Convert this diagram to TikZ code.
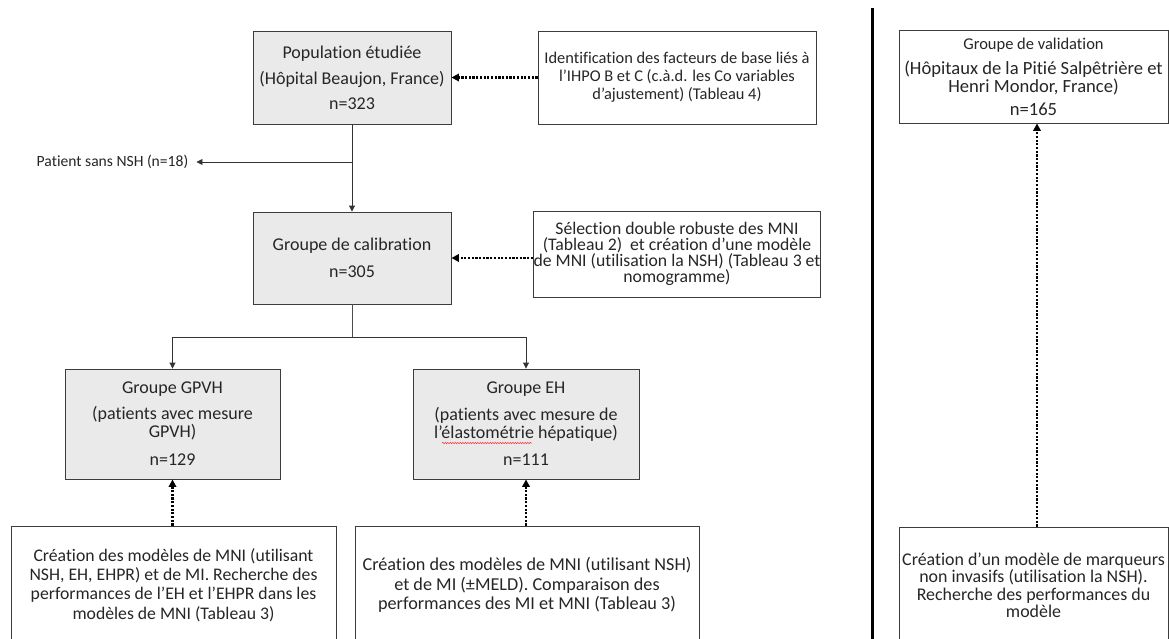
\documentclass[tikz,border=0pt]{standalone}
\usepackage{fontspec}
\setmainfont{Carlito}[Ligatures=NoCommon]
\usetikzlibrary{arrows.meta,decorations.pathmorphing}
\definecolor{boxfill}{RGB}{234,234,234}
\definecolor{edge}{RGB}{60,60,60}
\begin{document}
\begin{tikzpicture}[x=1pt,y=-1pt,
  gbox/.style={draw=edge, line width=0.9pt, fill=boxfill, inner sep=0pt, align=center,
    font=\fontsize{18}{18}\selectfont, text=black!85},
  wbox/.style={draw=edge, line width=0.9pt, fill=white, inner sep=0pt, align=center,
    font=\fontsize{18}{18}\selectfont, text=black!85},
  solidarrow/.style={draw=black!80, line width=0.9pt, -{Triangle[length=6pt,width=6pt]}},
  plainline/.style={draw=black!70, line width=0.9pt},
  dotarrow/.style={draw=black, line width=2.5pt, dash pattern=on 2.2pt off 1.5pt,
    -{Triangle[length=7.5pt,width=7.5pt]}, shorten >=0pt}
]
\useasboundingbox (0,0) rectangle (1169,639);
\clip (0,0) rectangle (1169,639);
\fill[white] (0,0) rectangle (1169,639);

% left column
\node[gbox, minimum width=198pt, minimum height=93pt] (pop) at (352,77.5)
  {Population étudiée\\[8pt](Hôpital Beaujon, France)\\[7pt]n=323};
\node[wbox, minimum width=278pt, minimum height=93pt, font=\fontsize{16.4}{18}\selectfont] (ident) at (677,77.5)
  {Identification des facteurs de base liés à\\l’IHPO B et C (c.à.d. les Co variables\\d’ajustement) (Tableau 4)};
\node[gbox, minimum width=198pt, minimum height=92pt] (calib) at (352,258)
  {Groupe de calibration\\[9pt]n=305};
\node[wbox, minimum width=278pt, minimum height=86pt, font=\fontsize{17.7}{16}\selectfont] (sel) at (677,254)
  {Sélection double robuste des MNI\\(Tableau 2)\ \ et création d’une modèle\\de MNI (utilisation la NSH) (Tableau 3 et\\nomogramme)};
\node[font=\fontsize{15.6}{15.6}\selectfont, text=black!85, inner ysep=2pt, inner xsep=8pt] (lost) at (112.5,162) {Patient sans NSH (n=18)};
\coordinate (branch) at (352,162);
\coordinate (split) at (352,337);

\node[gbox, minimum width=215pt, minimum height=110pt] (gpvh) at (172.5,424)
  {Groupe GPVH\\[8pt](patients avec mesure\\GPVH)\\[10pt]n=129};
\node[gbox, minimum width=226pt, minimum height=110pt] (eh) at (526,424)
  {Groupe EH\\[9pt](patients avec mesure de\\l’élastométrie hépatique)\\[9pt]n=111};

\node[wbox, minimum width=325pt, minimum height=118pt, font=\fontsize{17.7}{19.3}\selectfont] (bl) at (173.5,585)
  {Création des modèles de MNI (utilisant\\NSH, EH, EHPR) et de MI. Recherche des\\performances de l’EH et l’EHPR dans les\\modèles de MNI (Tableau 3)};
\node[wbox, minimum width=344pt, minimum height=118pt, font=\fontsize{18.2}{19.5}\selectfont] (bm) at (527,585)
  {Création des modèles de MNI (utilisant NSH)\\et de MI (±MELD). Comparaison des\\performances des MI et MNI (Tableau 3)};

% right column
\node[wbox, minimum width=269pt, minimum height=93pt, font=\fontsize{18.6}{18}\selectfont] (val) at (1033.5,76.5)
  {{\fontsize{16.5}{18}\selectfont Groupe de validation}\\[7pt](Hôpitaux de la Pitié Salpêtrière et\\Henri Mondor, France)\\[5pt]n=165};
\node[wbox, minimum width=269pt, minimum height=116pt, font=\fontsize{17.9}{17.5}\selectfont] (br) at (1033.5,585)
  {Création d’un modèle de marqueurs\\non invasifs (utilisation la NSH).\\Recherche des performances du\\modèle};

% separator
\draw[line width=3pt, black] (872,8) -- (872,645);

% connectors
\draw[solidarrow] (pop.south) -- (calib.north);
\draw[solidarrow] (branch) -- (lost.east);
\draw[plainline] (calib.south) -- (split);
\draw[solidarrow] (split) -| (gpvh.north);
\draw[solidarrow] (split) -| (eh.north);
\draw[dotarrow] (ident.west |- pop.east) -- (pop.east);
\draw[dotarrow] (sel.west |- calib.east) -- (calib.east);
\draw[dotarrow] (bl.north -| gpvh.south) -- (gpvh.south);
\draw[dotarrow] (bm.north -| eh.south) -- (eh.south);
\draw[dotarrow] (br.north -| 1037,0) -- (val.south -| 1037,0);

% spell-check squiggle
\draw[red!80, line width=0.5pt, decorate, decoration={snake, amplitude=0.7pt, segment length=2.5pt}] (442,443) -- (532,443);
\end{tikzpicture}
\end{document}
